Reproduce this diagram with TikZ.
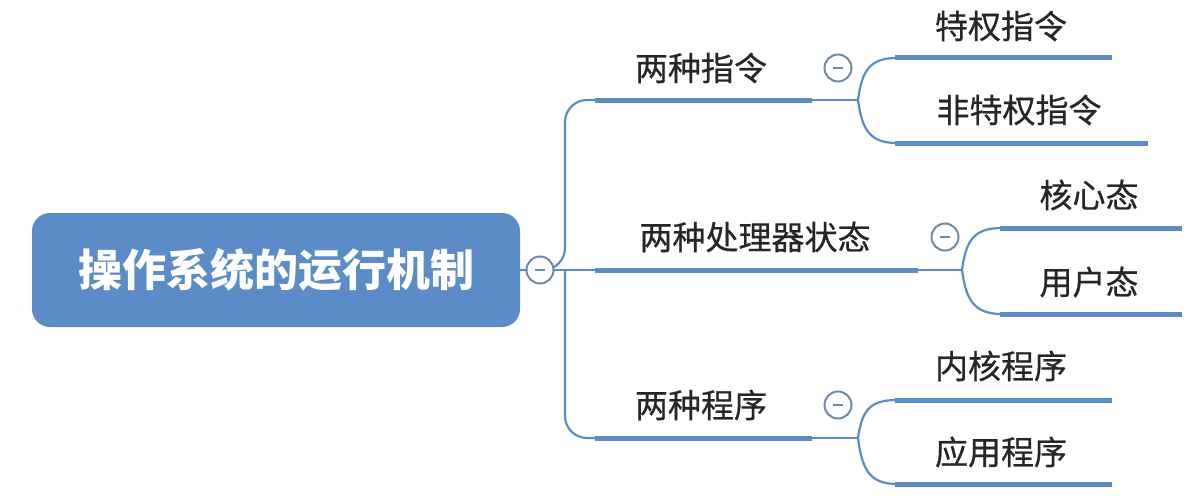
\documentclass[tikz,border=0pt]{standalone}
\usepackage{fontspec}
\setmainfont{Noto Sans CJK SC}
\newfontfamily\medfont[FakeBold=0.6]{Noto Sans CJK SC}
\definecolor{mb}{HTML}{5B8CC8}
\definecolor{cb}{HTML}{6F88A8}
\begin{document}
\begin{tikzpicture}[x=1pt,y=-1pt,
  lbl/.style={font=\medfont\fontsize{33}{36}\selectfont,text=black!85,inner sep=0},
  ul/.style={draw=mb,line width=5pt},
  con/.style={draw=mb,line width=2.2pt},
  col/.style={circle,draw=cb,line width=2pt,fill=white,minimum size=27pt,inner sep=0,
    path picture={\draw[cb,line width=2pt] ([xshift=-5pt]path picture bounding box.center) -- ([xshift=5pt]path picture bounding box.center);}}]
\useasboundingbox (0,0) rectangle (1190,495);
\node[fill=mb,rounded corners=18pt,minimum width=488pt,minimum height=114pt,text=white,
  font=\fontsize{44}{48}\selectfont\bfseries] (root) at (276,270) {操作系统的运行机制};
% branches
\coordinate (b1s) at (595,100); \coordinate (b1e) at (812,100);
\coordinate (b2s) at (595,270); \coordinate (b2e) at (918,270);
\coordinate (b3s) at (595,438); \coordinate (b3e) at (812,438);
\draw[con,rounded corners=22pt] (root.east) -- (565,270) -- (565,100) -- (b1s);
\draw[con,rounded corners=22pt] (565,270) -- (565,438) -- (b3s);
\draw[con] (root.east) -- (b2s);
\node[col] (c0) at (540,270) {};
\draw[ul] (b1s)--(b1e); \draw[ul] (b2s)--(b2e); \draw[ul] (b3s)--(b3e);
\node[lbl] (t1) at (701,68) {两种指令};
\node[lbl] (t2) at (755,237) {两种处理器状态};
\node[lbl] (t3) at (701,405) {两种程序};
\node[col] (c1) at (838,68) {};
\node[col] (c2) at (945,237) {};
\node[col] (c3) at (838,405) {};
% children 1
\coordinate (j1) at (858,100);
\draw[ul] (895,58)--(1112,58); \node[lbl] (a1) at (1001,26) {特权指令};
\draw[ul] (895,143)--(1148,143); \node[lbl] (a2) at (1019,110) {非特权指令};
\draw[con] (b1e) -- (j1);
\draw[con] (j1) .. controls (862,70) and (870,58) .. (897,58);
\draw[con] (j1) .. controls (862,130) and (870,143) .. (897,143);
% children 2
\coordinate (j2) at (962,270);
\draw[ul] (1000,228)--(1182,228); \node[lbl] (k1) at (1089,195) {核心态};
\draw[ul] (1000,314)--(1182,314); \node[lbl] (k2) at (1089,282) {用户态};
\draw[con] (b2e) -- (j2);
\draw[con] (j2) .. controls (966,240) and (974,228) .. (1002,228);
\draw[con] (j2) .. controls (966,300) and (974,314) .. (1002,314);
% children 3
\coordinate (j3) at (858,438);
\draw[ul] (895,400)--(1112,400); \node[lbl] (p1) at (1001,366) {内核程序};
\draw[ul] (895,484)--(1112,484); \node[lbl] (p2) at (1001,452) {应用程序};
\draw[con] (b3e) -- (j3);
\draw[con] (j3) .. controls (862,410) and (870,400) .. (897,400);
\draw[con] (j3) .. controls (862,470) and (870,484) .. (897,484);
\end{tikzpicture}
\end{document}
